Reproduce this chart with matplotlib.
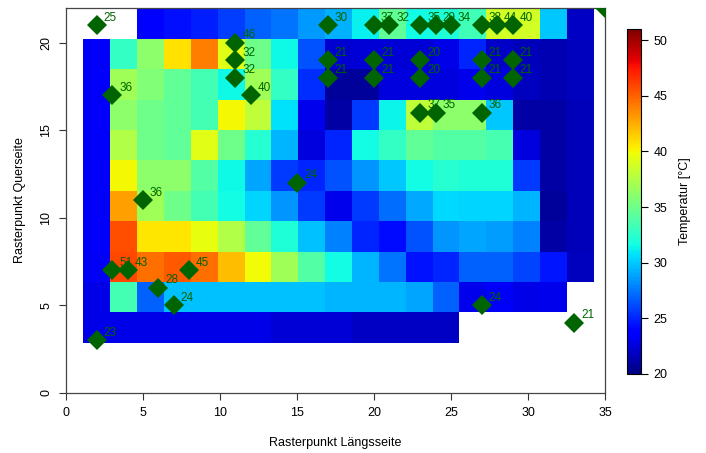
import numpy as np
import matplotlib
matplotlib.use("Agg")
import matplotlib.pyplot as plt
from matplotlib.colors import Normalize

plt.rcParams['font.family'] = ['Liberation Sans', 'DejaVu Sans']

nan = np.nan
# Heatmap values, rows from top (row 10) to bottom (row 0), 19 columns
temp_rows = [
    [nan, nan, 23.8, 24.3, 24.8, 25.8, 26.8, 27.5, 28.5, 29.3, 31.2, 34.5, 31.6, 32.0, 33.3, 38.7, 38.7, 30.0, 21.9],
    [23.3, 32.8, 36.2, 40.8, 44.0, 39.3, 35.0, 31.5, 26.3, 22.2, 22.4, 22.4, 22.4, 22.8, 25.0, 22.0, 21.6, 21.4, 21.7],
    [23.3, 36.9, 35.7, 34.5, 33.4, 31.4, 36.9, 32.8, 25.3, 20.8, 20.8, 22.6, 22.6, 22.6, 23.0, 22.6, 21.8, 21.4, 21.7],
    [23.3, 36.2, 35.0, 34.5, 33.4, 40.0, 38.0, 30.7, 23.0, 21.0, 25.6, 31.3, 38.0, 36.2, 36.2, 30.0, 21.0, 21.0, 21.6],
    [23.3, 37.5, 35.0, 34.5, 39.3, 35.0, 32.3, 29.4, 22.6, 25.0, 31.6, 32.8, 34.5, 34.0, 34.0, 33.5, 22.6, 21.0, 21.6],
    [23.3, 40.0, 36.2, 36.2, 34.0, 31.4, 28.9, 25.6, 25.0, 26.3, 28.4, 30.0, 31.6, 32.3, 32.0, 32.0, 25.6, 21.0, 21.6],
    [23.3, 43.0, 36.9, 35.0, 33.4, 31.6, 30.3, 28.4, 25.6, 23.0, 25.6, 27.2, 29.0, 30.5, 30.3, 30.3, 29.4, 20.8, 21.6],
    [23.3, 45.6, 40.7, 40.7, 39.5, 37.5, 34.5, 32.0, 29.8, 27.8, 25.0, 24.2, 26.3, 28.4, 28.9, 28.6, 27.8, 21.0, 21.6],
    [23.2, 45.9, 44.5, 45.3, 44.5, 42.0, 39.9, 36.9, 34.0, 31.6, 29.4, 27.5, 24.4, 25.0, 26.8, 26.8, 26.0, 24.6, 21.8],
    [22.8, 33.4, 26.8, 29.8, 29.8, 29.8, 29.8, 29.8, 29.8, 29.4, 29.4, 29.4, 28.9, 26.8, 23.0, 23.3, 22.8, 23.0, nan],
    [22.8, 22.8, 22.8, 22.8, 22.8, 22.8, 22.8, 22.4, 22.4, 22.4, 21.9, 21.9, 21.9, 21.9, nan, nan, nan, nan, nan],
]

# Sensor points (label of the corner point is not visible in the reference)
pt_x = [2, 17, 20, 21, 23, 24, 25, 27, 28, 29,
        11, 11, 11, 12, 3,
        17, 17, 20, 20, 23, 23, 27, 27, 29, 29,
        23, 24, 27,
        15, 5, 3, 4, 8, 6, 7, 2, 27, 33, 35]
pt_y = [21, 21, 21, 21, 21, 21, 21, 21, 21, 21,
        20, 19, 18, 17, 17,
        19, 18, 19, 18, 19, 18, 19, 18, 19, 18,
        16, 16, 16,
        12, 11, 7, 7, 7, 6, 5, 3, 5, 4, 22]
pt_lab = ["25", "30", "37", "32", "35", "29", "34", "38", "44", "40",
          "46", "32", "32", "40", "36",
          "21", "21", "21", "21", "20", "20", "21", "21", "21", "21",
          "37", "35", "36",
          "24", "36", "51", "43", "45", "28", "24", "23", "24", "21", ""]

x_ticks = [0, 5, 10, 15, 20, 25, 30, 35]
y_ticks = [0, 5, 10, 15, 20]
cb_ticks = [20, 25, 30, 35, 40, 45, 50]

Z = np.ma.masked_invalid(np.flipud(np.array(temp_rows)))
n_rows, n_cols = Z.shape
xe = np.linspace(1.13, 34.27, n_cols + 1)
ye = np.linspace(2.87, 21.97, n_rows + 1)

fig = plt.figure(figsize=(7.06, 4.53), dpi=100)
ax = fig.add_axes([0.0935, 0.1325, 0.7635, 0.8499])
norm = Normalize(20, 51)
mesh = ax.pcolormesh(xe, ye, Z, cmap='jet', norm=norm, shading='flat')

ax.plot(pt_x, pt_y, 'D', color='#006400', ms=10, mew=0, clip_on=True, zorder=3)
for x, y, lab in zip(pt_x, pt_y, pt_lab):
    if not lab:
        continue
    ax.annotate(lab, (x, y), xytext=(5.0, 5.5), textcoords='offset points',
                ha='left', va='center', color='#006400', fontsize=8.5,
                zorder=4)

ax.set_xlim(0, 35)
ax.set_ylim(0, 22)
ax.set_xticks(x_ticks)
ax.set_yticks(y_ticks)
ax.tick_params(length=5, width=0.8, labelsize=9, pad=5, color='#333333')
for lbl in ax.get_yticklabels():
    lbl.set_rotation(90)
    lbl.set_va('center')
for s in ax.spines.values():
    s.set_color('#444444')
    s.set_linewidth(0.9)
ax.set_xlabel("Rasterpunkt Längsseite", fontsize=9, labelpad=13)
ax.set_ylabel("Rasterpunkt Querseite", fontsize=9, labelpad=10)

cax = fig.add_axes([0.888, 0.1744, 0.0198, 0.7616])
cb = fig.colorbar(mesh, cax=cax, ticks=cb_ticks)
cb.outline.set_linewidth(0.8)
cax.tick_params(length=5, width=0.8, labelsize=9, pad=4)
cb.set_label("Temperatur [°C]", fontsize=9, labelpad=8)

fig.savefig("out.png", dpi=100)
